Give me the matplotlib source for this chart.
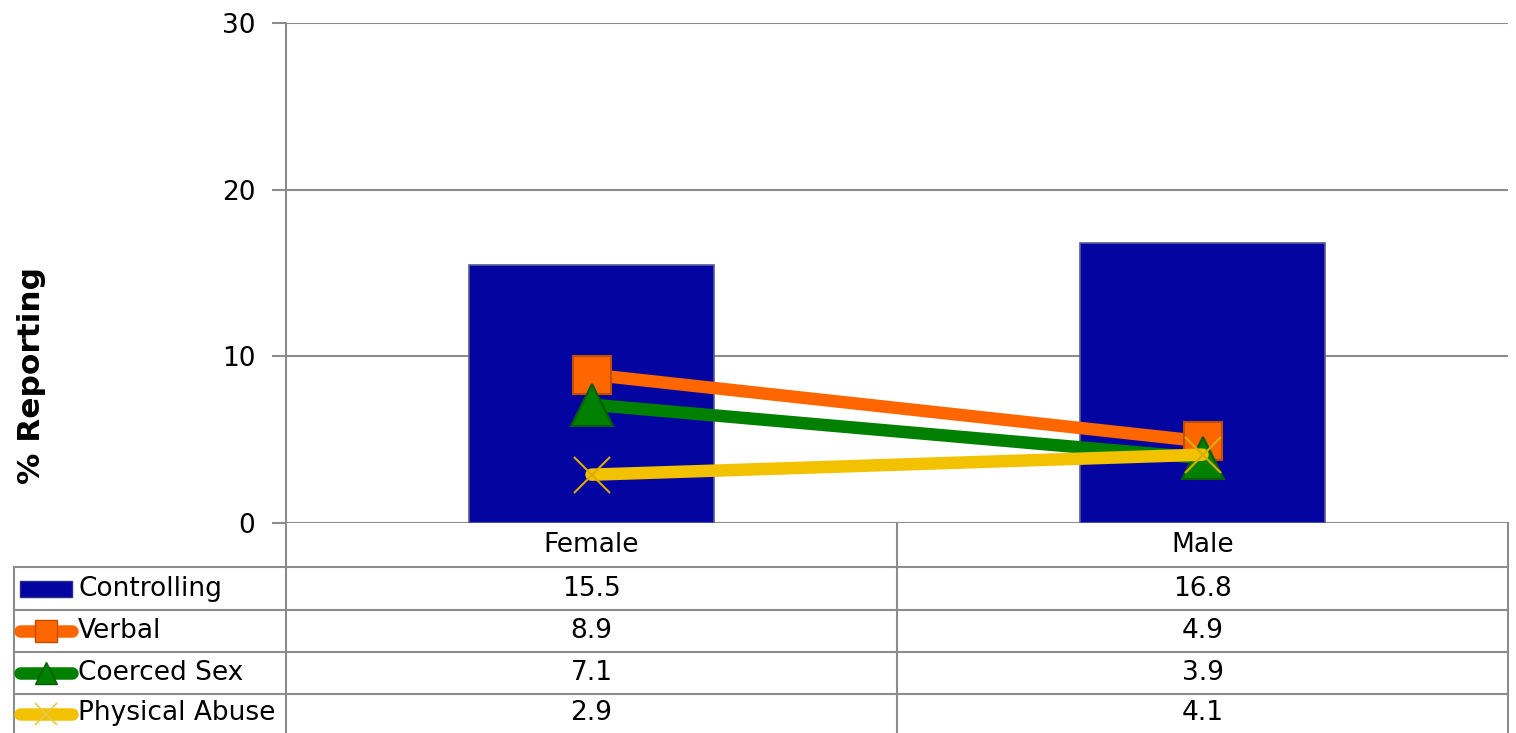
import numpy as np
import matplotlib.pyplot as plt
from matplotlib.lines import Line2D
from matplotlib.patches import Rectangle

# Data
categories = ['Female', 'Male']
controlling = [15.5, 16.8]
verbal = [8.9, 4.9]
coerced = [7.1, 3.9]
physical = [2.9, 4.1]
series_names = ['Controlling', 'Verbal', 'Coerced Sex', 'Physical Abuse']

W, H = 1516, 733
fig = plt.figure(figsize=(W / 100, H / 100), dpi=100)
plt.rcParams['font.family'] = 'DejaVu Sans'
FS = 19
grid_c = '#8c8c8c'


def fx(x):
    return x / W


def fy(y):
    return 1 - y / H


# main plot area
left, right, top, bottom = 286, 1508, 23, 523
ax = fig.add_axes([fx(left), fy(bottom), fx(right - left), (bottom - top) / H])
x = np.arange(len(categories))
ax.set_xlim(-0.5, len(categories) - 0.5)
ax.set_ylim(0, 30)
ax.set_yticks([0, 10, 20, 30])
ax.tick_params(axis='y', labelsize=FS, length=10, width=1.5, color=grid_c, pad=12)
ax.set_xticks([])
for s in ['top', 'right', 'bottom']:
    ax.spines[s].set_visible(False)
ax.spines['left'].set_color(grid_c)
ax.spines['left'].set_linewidth(1.5)
ax.yaxis.grid(True, color=grid_c, linewidth=1.5)
ax.set_axisbelow(True)

ax.bar(x, controlling, width=0.4, color='#0404A0', edgecolor='#5a5a9a', linewidth=1.2, zorder=2)

line_specs = [
    (verbal, '#FF6600', 's', 27, '#C04E00'),
    (coerced, '#008000', '^', 30, '#0B5A0B'),
    (physical, '#F2C200', 'x', 26, '#D8A800'),
]
for vals, col, mk, ms, mec in line_specs:
    if mk == 'x':
        ax.plot(x, vals, color=col, linewidth=9, solid_capstyle='round', zorder=3)
        ax.plot(x, vals, linestyle='none', marker='x', markersize=ms, markeredgewidth=1.5,
                color='#D9AE00', zorder=4)
    else:
        ax.plot(x, vals, color=col, linewidth=9, marker=mk, markersize=ms,
                markerfacecolor=col, markeredgecolor=mec, markeredgewidth=1.5, zorder=3)

fig.text(fx(32), fy(376), '% Reporting', rotation=90, ha='center', va='center',
         fontsize=22.5, fontweight='bold')

# data table under the axis
col_x = [14, 286, 897, 1508]
row_y = [523, 567, 610, 652, 694, 733]


def hline(x0, x1, y):
    fig.add_artist(Line2D([fx(x0), fx(x1)], [fy(y), fy(y)], color=grid_c, linewidth=1.5))


def vline(xv, y0, y1):
    fig.add_artist(Line2D([fx(xv), fx(xv)], [fy(y0), fy(y1)], color=grid_c, linewidth=1.5))


for yy in row_y[1:5]:
    hline(col_x[0], col_x[3], yy)
vline(col_x[0], row_y[1], 733)
for xv in col_x[1:]:
    vline(xv, row_y[0], 733)

centers = [(col_x[1] + col_x[2]) / 2, (col_x[2] + col_x[3]) / 2]
for cx, cat in zip(centers, categories):
    fig.text(fx(cx), fy(545), cat, ha='center', va='center', fontsize=FS)

table_vals = [controlling, verbal, coerced, physical]
for i, (name, vals) in enumerate(zip(series_names, table_vals)):
    yc = (row_y[i + 1] + row_y[i + 2]) / 2
    fig.text(fx(78), fy(yc), name, ha='left', va='center', fontsize=FS)
    for cx, v in zip(centers, vals):
        fig.text(fx(cx), fy(yc), f'{v:.1f}', ha='center', va='center', fontsize=FS)

# legend keys in the table
yc0 = (row_y[1] + row_y[2]) / 2
fig.add_artist(Rectangle((fx(20), fy(yc0 + 8)), fx(52), 16 / H, facecolor='#0404A0',
                         edgecolor='#2a2a8a', linewidth=1))
for i, (vals, col, mk, ms, mec) in enumerate(line_specs):
    yc = (row_y[i + 2] + row_y[i + 3]) / 2
    fig.add_artist(Line2D([fx(20), fx(72)], [fy(yc), fy(yc)], color=col, linewidth=9,
                          solid_capstyle='round'))
    if mk == 'x':
        fig.add_artist(Line2D([fx(46)], [fy(yc)], marker='x', markersize=16,
                              markeredgewidth=1.2, color='#E8C84A'))
    else:
        fig.add_artist(Line2D([fx(46)], [fy(yc)], marker=mk, markersize=16,
                              markerfacecolor=col, markeredgecolor=mec, markeredgewidth=1))

fig.savefig('out.png', dpi=100)
